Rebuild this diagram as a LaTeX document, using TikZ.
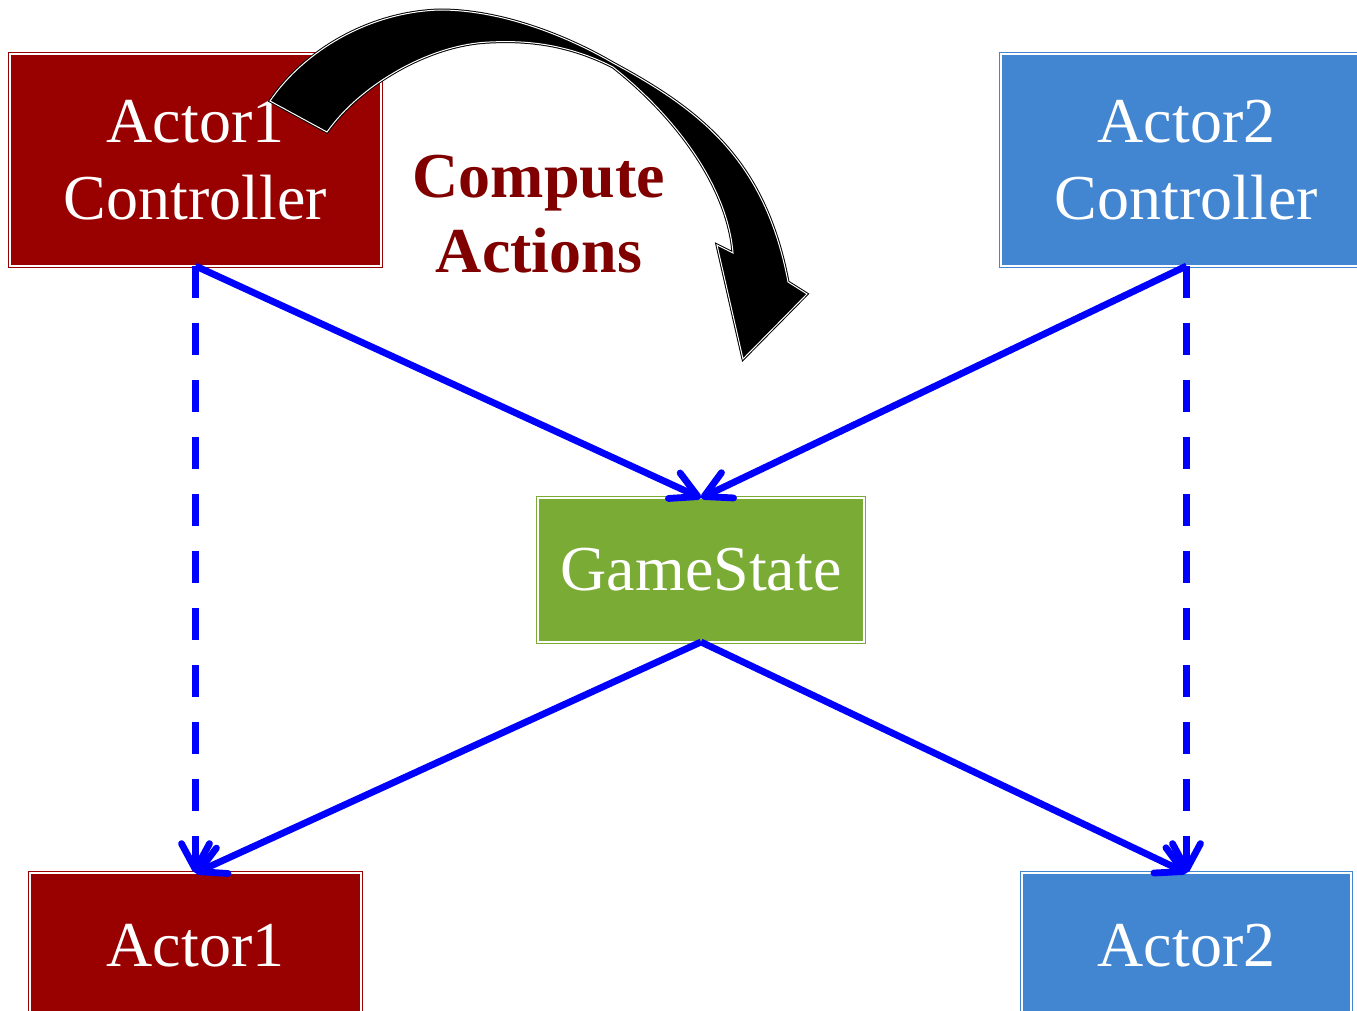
\documentclass[tikz,border=0pt]{standalone}
\usepackage{fontspec}
\setmainfont{Liberation Serif}
\usetikzlibrary{arrows.meta}
\definecolor{actred}{RGB}{153,0,0}
\definecolor{actblue}{RGB}{66,133,208}
\definecolor{gsgreen}{RGB}{122,171,53}
\definecolor{cmpred}{RGB}{128,0,0}
\definecolor{linkblue}{RGB}{0,0,255}
\begin{document}
\begin{tikzpicture}[x=0.5pt,y=-0.5pt,
  box/.style={draw=#1, fill=#1, double=white, double distance=0.6pt, line width=0.6pt,
    inner sep=0pt, outer sep=0pt, align=center, text=white,
    font=\fontsize{32}{38.5}\selectfont},
  conn/.style={draw=linkblue, line width=3.4pt,
    -{Straight Barb[length=13pt,width=14pt,round]}},
  dashconn/.style={conn, dash pattern=on 16pt off 12.5pt},
  cmplabel/.style={text=cmpred, font=\fontsize{32}{38.5}\selectfont\bfseries, inner sep=0pt, anchor=base},
  bigarrow/.style={fill=black, draw=black, double=white, double distance=0.5pt, line width=0.5pt, line join=miter}
]
\clip (0,0) rectangle (1357,1011);
\fill[white] (0,0) rectangle (1357,1011);

\node[box=actred, minimum width=185.5pt, minimum height=106pt] (a1c) at (195.5,160) {Actor1\\Controller};
\node[box=actblue, minimum width=185.5pt, minimum height=106pt] (a2c) at (1186.5,160) {Actor2\\Controller};
\node[box=gsgreen, minimum width=163pt, minimum height=72pt] (gs) at (701,570) {GameState};
\node[box=actred, minimum width=165.5pt, minimum height=73pt] (a1) at (195.5,946) {Actor1};
\node[box=actblue, minimum width=164.5pt, minimum height=73pt] (a2) at (1186.5,946) {Actor2};

\node[cmplabel] (ca1) at (539,198) {Compute};
\node[cmplabel] (ca2) at (539,273) {Actions};

\draw[conn] (a1c.south) -- (gs.north);
\draw[conn] (a2c.south) -- (gs.north);
\draw[conn] (gs.south) -- (a1.north);
\draw[conn] (gs.south) -- (a2.north);
\draw[dashconn] (a1c.south) -- (a1.north);
\draw[dashconn] (a2c.south) -- (a2.north);

\path[bigarrow]
  (270,101) .. controls (305,50) and (370,12) .. (440,10)
  .. controls (500,10) and (565,35) .. (613,63)
  .. controls (700,110) and (765,160) .. (788,282)
  -- (807,294) -- (743,359) -- (717,245) -- (733,253)
  .. controls (728,190) and (680,120) .. (613,67)
  .. controls (570,45) and (530,40) .. (490,42)
  .. controls (430,44) and (360,85) .. (327,132)
  -- cycle;
\end{tikzpicture}
\end{document}
